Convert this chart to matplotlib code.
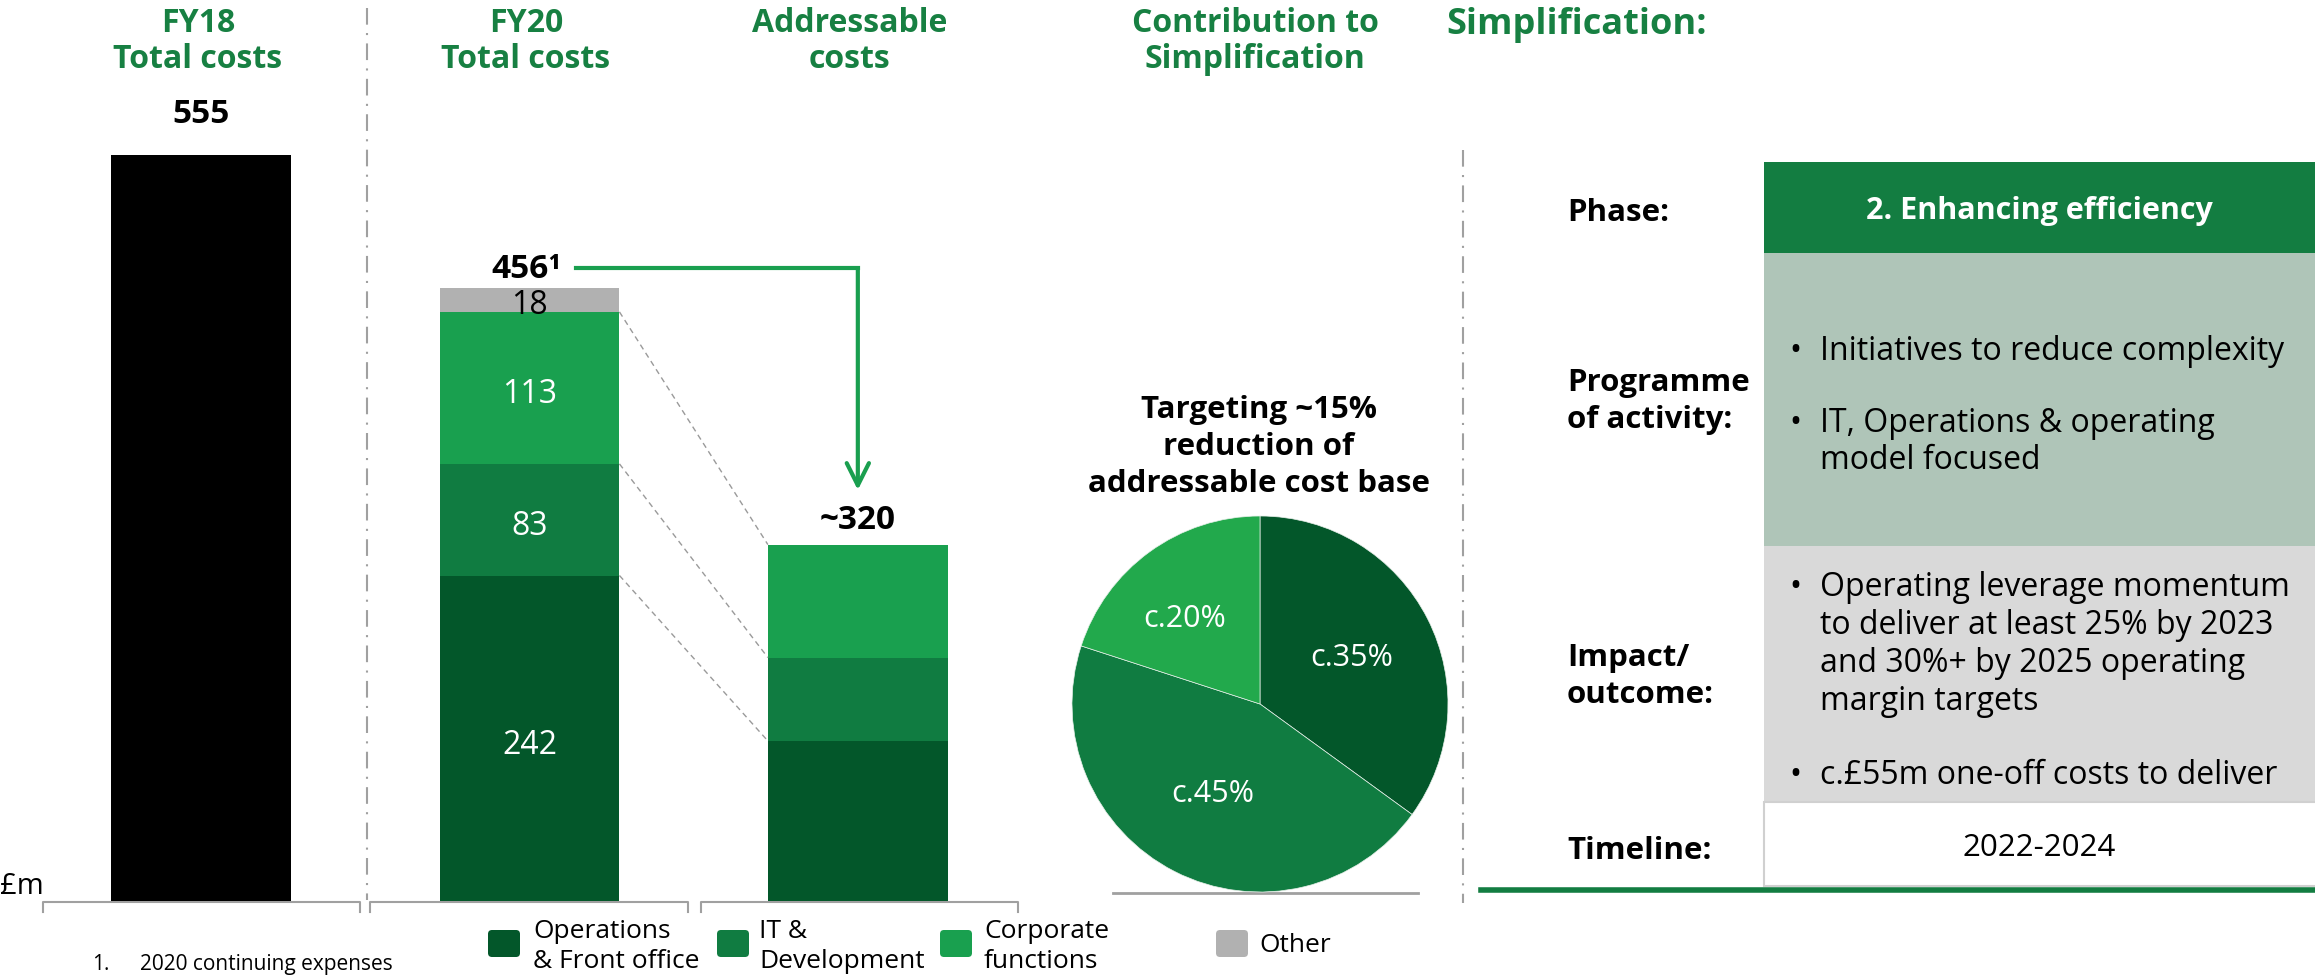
import numpy as np
import matplotlib.pyplot as plt
from matplotlib.patches import Rectangle, FancyBboxPatch

plt.rcParams['font.family'] = ['Open Sans', 'DejaVu Sans']

W, H = 2315, 976

# ---- data ----
bar_titles = ["FY18\nTotal costs", "FY20\nTotal costs", "Addressable\ncosts"]
categories = ["Operations\n& Front office", "IT &\nDevelopment", "Corporate\nfunctions", "Other"]
fy18_total = 555
fy20_parts = [242, 83, 113, 18]
fy20_label = "456¹"
addressable_parts = [119, 62, 84]   # as drawn on the slide
addressable_label = "~320"
pie_shares = [35, 45, 20]
pie_labels = ["c.35%", "c.45%", "c.20%"]
pie_title = "Targeting ~15%\nreduction of\naddressable cost base"

row_labels = ["Phase:", "Programme\nof activity:", "Impact/\noutcome:", "Timeline:"]
phase_text = "2. Enhancing efficiency"
activity_bullets = ["Initiatives to reduce complexity", "IT, Operations & operating\nmodel focused"]
impact_bullets = ["Operating leverage momentum\nto deliver at least 25% by 2023\nand 30%+ by 2025 operating\nmargin targets",
                  "c.£55m one-off costs to deliver"]
timeline_text = "2022-2024"

c_ops, c_it, c_corp, c_other = '#03572a', '#107c41', '#19a04f', '#b1b1b1'
c_pie = [c_ops, c_it, '#22a94c']
c_head = '#178042'
seg_cols = [c_ops, c_it, c_corp, c_other]

fig = plt.figure(figsize=(W / 100, H / 100), dpi=100)

# background axes in pixel coordinates (y down)
bg = fig.add_axes([0, 0, 1, 1])
bg.set_xlim(0, W)
bg.set_ylim(H, 0)
bg.axis('off')


def pos(x0, y0, x1, y1):
    return [x0 / W, 1 - y1 / H, (x1 - x0) / W, (y1 - y0) / H]


def lines(x, y0, text, pitch, **kw):
    # one text per line so the line pitch matches the slide
    for k, ln in enumerate(text.split('\n')):
        bg.text(x, y0 + k * pitch + 3, ln, va='center', **kw)


# ---- bars ----
px_per_unit = 1.345
ax = fig.add_axes(pos(37, 100, 1022, 901))
ax.set_xlim(-0.5, 2.5)
ax.set_ylim(0, 801 / px_per_unit)
ax.axis('off')
bw = 0.548

ax.bar(0, fy18_total, bw, color='black')
ax.annotate(str(fy18_total), (0, fy18_total), xytext=(0, 29), textcoords='offset points',
            ha='center', va='center', fontsize=24, fontweight='bold')

bottom = 0
fy20_tops = []
for i, v in enumerate(fy20_parts):
    ax.bar(1, v, bw, bottom=bottom, color=seg_cols[i])
    txt_col = 'black' if i == 3 else 'white'
    ax.annotate(str(v), (1, bottom + v / 2), xytext=(0, -5 if i < 3 else -4),
                textcoords='offset points', ha='center', va='center', fontsize=23, color=txt_col)
    bottom += v
    fy20_tops.append(bottom)
ax.annotate(fy20_label, (1, bottom), xytext=(-2, 13), textcoords='offset points',
            ha='center', va='center', fontsize=24, fontweight='bold')

bottom = 0
addr_tops = []
for i, v in enumerate(addressable_parts):
    ax.bar(2, v, bw, bottom=bottom, color=seg_cols[i])
    bottom += v
    addr_tops.append(bottom)
ax.annotate(addressable_label, (2, bottom), xytext=(0, 17), textcoords='offset points',
            ha='center', va='center', fontsize=24, fontweight='bold')

# dashed connectors
for t1, t2 in zip(fy20_tops[:3], addr_tops):
    ax.plot([1 + bw / 2, 2 - bw / 2], [t1, t2], ls=(0, (4, 3)), color='#9a9a9a', lw=1)

# arrow from 456 to ~320
arr_y = (901 - 268) / px_per_unit
tip_y = (901 - 490) / px_per_unit
ax.plot([1.142, 2], [arr_y, arr_y], color='#1a9f4f', lw=3, solid_capstyle='projecting')
ax.annotate('', xy=(2, tip_y), xytext=(2, arr_y),
            arrowprops=dict(arrowstyle='->,head_length=0.8,head_width=0.4', color='#1a9f4f',
                            lw=3, mutation_scale=20, shrinkA=0, shrinkB=0))

# brackets under bars
for x0, x1 in [(43, 360), (370, 688), (701, 1018)]:
    bg.plot([x0, x0, x1, x1], [912, 902, 902, 912], color='#a0a0a0', lw=1.5)

bg.text(0, 886, "£m", fontsize=21, va='center', ha='left')

# headers
for x, t in zip([198, 526, 850], bar_titles):
    lines(x, 21, t, 36, ha='center', fontsize=23, fontweight='bold', color=c_head)
lines(1255, 21, "Contribution to\nSimplification", 36, ha='center', fontsize=23,
      fontweight='bold', color=c_head)
bg.text(1446, 25, "Simplification:", ha='left', va='center', fontsize=26, fontweight='bold',
        color=c_head)

# separators
bg.plot([367, 367], [8, 900], color='#a0a0a0', lw=1.5, ls=(0, (8, 4, 1, 4)))
bg.plot([1463, 1463], [150, 903], color='#a0a0a0', lw=1.5, ls=(0, (8, 4, 1, 4)))

# ---- pie ----
r = 188
cx, cy = 1260, 704
pax = fig.add_axes(pos(cx - r, cy - r, cx + r, cy + r))
pax.pie(pie_shares, colors=c_pie, startangle=90, counterclock=False, radius=1,
        wedgeprops=dict(linewidth=0.5, edgecolor='#e8f0ea'))
pax.set_xlim(-1, 1)
pax.set_ylim(-1, 1)
pax.set_aspect('equal')
for (px, py), lab in zip([(1352, 655), (1213, 791), (1185, 616)], pie_labels):
    pax.text((px - cx) / r, (cy - py - 3) / r, lab, ha='center', va='center', color='white',
             fontsize=22)
bg.plot([1113, 1418], [893, 893], color='#a0a0a0', lw=2)
lines(1259, 407, pie_title, 37, ha='center', fontsize=22.5, fontweight='bold')

# ---- legend ----
for (sx, tx), lab, col in zip([(488, 533), (717, 759), (940, 984), (1216, 1259)], categories, seg_cols):
    bg.add_patch(FancyBboxPatch((sx + 4, 934), 24, 19, boxstyle='round,pad=4', color=col,
                                lw=0))
    n = lab.count('\n')
    lines(tx, 943 - 15 * n, lab, 30, ha='left', fontsize=19)

bg.text(92, 975, "1.", ha='left', va='bottom', fontsize=15)
bg.text(140, 975, "2020 continuing expenses", ha='left', va='bottom', fontsize=15)

# ---- right table ----
bx0, bx1 = 1764, 2315
bg.add_patch(Rectangle((bx0, 162), bx1 - bx0, 91, color='#137d41', lw=0))
bg.add_patch(Rectangle((bx0, 253), bx1 - bx0, 293, color='#afc5b8', lw=0))
bg.add_patch(Rectangle((bx0, 546), bx1 - bx0, 256, color='#d9d9d9', lw=0))
bg.add_patch(Rectangle((bx0, 802), bx1 - bx0 + 5, 84, facecolor='white', edgecolor='#d0d0d0', lw=1.5))
bg.plot([1481, W], [890, 890], color='#137d41', lw=4)

for y, lab in zip([210, 380, 655, 848], row_labels):
    lines(1567, y, lab, 37, ha='left', fontsize=22.5, fontweight='bold')

bg.text(2039, 211, phase_text, ha='center', va='center', fontsize=22, fontweight='bold',
        color='white')
for y, t in zip([348, 420, 585, 772], activity_bullets + impact_bullets):
    bg.text(1789, y + 3, "•", ha='left', va='center', fontsize=23)
    lines(1820, y, t, 37.7, ha='left', fontsize=23)
bg.text(2039, 848, timeline_text, ha='center', va='center', fontsize=22.5)

fig.savefig('out.png', dpi=100)
